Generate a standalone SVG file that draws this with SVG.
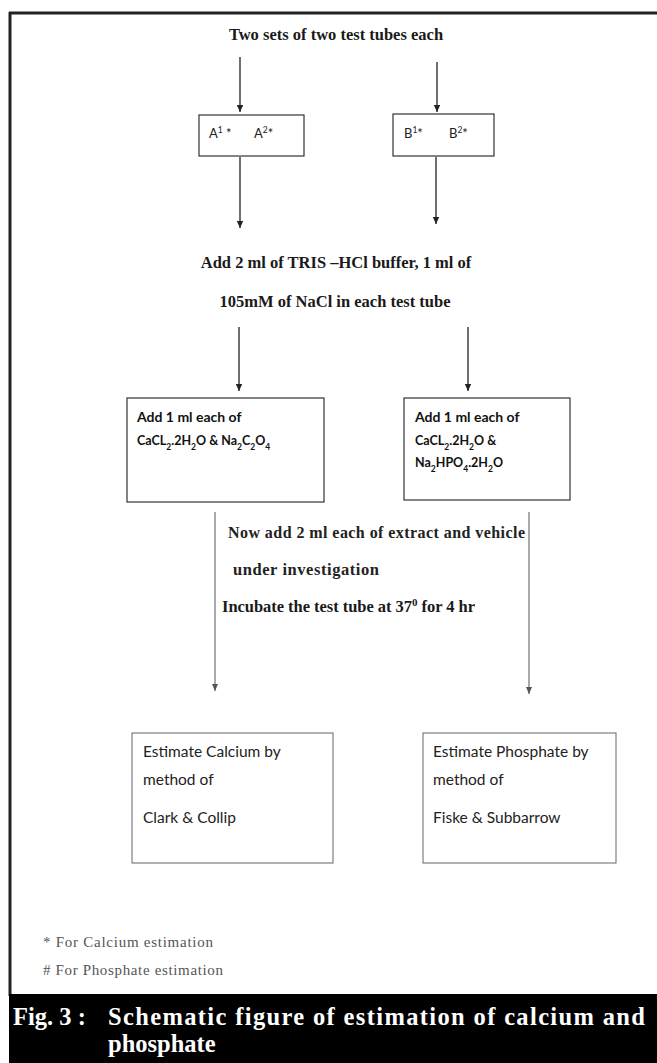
<svg xmlns="http://www.w3.org/2000/svg" width="657" height="1063" viewBox="0 0 657 1063">
<style>
.serifb{font-family:"Liberation Serif","Times New Roman",serif;font-weight:bold;fill:#1a1a1a;}
.serif{font-family:"Liberation Serif","Times New Roman",serif;fill:#222;}
.sans{font-family:Lato,"Liberation Sans",sans-serif;fill:#222;}
.sansb{font-family:Lato,"Liberation Sans",sans-serif;font-weight:bold;fill:#111;}
.box{fill:none;stroke:#333;stroke-width:1.2;}
.boxl{fill:none;stroke:#666;stroke-width:1;}
.conn{stroke:#222;stroke-width:1.3;fill:none;}
.connl{stroke:#555;stroke-width:1;fill:none;}
.foot{font-family:"Liberation Serif","Times New Roman",serif;fill:#555;font-size:15px;}
.cap{font-family:"Liberation Serif","Times New Roman",serif;font-weight:bold;fill:#fff;font-size:24.5px;}
</style>
<defs>
<marker id="ah" markerWidth="8" markerHeight="8" refX="7" refY="4" orient="auto" markerUnits="userSpaceOnUse">
<path d="M0,0.8 L7,4 L0,7.2 Z" fill="#222"/>
</marker>
<marker id="ahl" markerWidth="8" markerHeight="8" refX="7" refY="4" orient="auto" markerUnits="userSpaceOnUse">
<path d="M0,1 L7,4 L0,7 Z" fill="#555"/>
</marker>
</defs>
<rect x="0" y="0" width="657" height="1063" fill="#fff"/>
<g id="frame">
<line x1="9" y1="13" x2="657" y2="13" stroke="#222" stroke-width="3"/>
<line x1="10" y1="12" x2="10" y2="996" stroke="#222" stroke-width="3"/>
</g>

<g id="connectors">
<line class="conn" x1="240" y1="57" x2="240" y2="112" marker-end="url(#ah)"/>
<line class="conn" x1="437" y1="62" x2="437" y2="112" marker-end="url(#ah)"/>
<line class="conn" x1="240" y1="157" x2="240" y2="228" marker-end="url(#ah)"/>
<line class="conn" x1="436" y1="157" x2="436" y2="224" marker-end="url(#ah)"/>
<line class="conn" x1="239" y1="327" x2="239" y2="391" marker-end="url(#ah)"/>
<line class="conn" x1="468" y1="327" x2="468" y2="391" marker-end="url(#ah)"/>
<line class="connl" x1="215" y1="512" x2="215" y2="691" marker-end="url(#ahl)"/>
<line class="connl" x1="529" y1="512" x2="529" y2="694" marker-end="url(#ahl)"/>
</g>

<g id="n-title">
<text class="serifb" x="336" y="40" font-size="16.5" text-anchor="middle">Two sets of two test tubes each</text>
</g>

<g id="n-A">
<rect class="box" x="199" y="115" width="105" height="41"/>
<text class="sans" x="209" y="138" font-size="13">A<tspan font-size="8.5" baseline-shift="super">1</tspan> *<tspan x="254">A</tspan><tspan font-size="8.5" baseline-shift="super">2</tspan>*</text>
</g>

<g id="n-B">
<rect class="box" x="393" y="114" width="101" height="42"/>
<text class="sans" x="404" y="138" font-size="13">B<tspan font-size="8.5" baseline-shift="super">1</tspan>*<tspan x="449">B</tspan><tspan font-size="8.5" baseline-shift="super">2</tspan>*</text>
</g>

<g id="n-buffer">
<text class="serifb" x="336" y="268" font-size="16.5" text-anchor="middle">Add 2 ml of TRIS –HCl buffer, 1 ml of</text>
<text class="serifb" x="335" y="307" font-size="16.5" text-anchor="middle">105mM of NaCl in each test tube</text>
</g>

<g id="n-oxalate">
<rect class="box" x="127" y="398" width="197" height="104"/>
<text class="sansb" x="137" y="422" font-size="14">Add 1 ml each of</text>
<text class="sansb" x="137" y="445" font-size="12.5">CaCL<tspan font-size="8.5" baseline-shift="sub">2</tspan>.2H<tspan font-size="8.5" baseline-shift="sub">2</tspan>O &amp; Na<tspan font-size="8.5" baseline-shift="sub">2</tspan>C<tspan font-size="8.5" baseline-shift="sub">2</tspan>O<tspan font-size="8.5" baseline-shift="sub">4</tspan></text>
</g>

<g id="n-phosphate">
<rect class="box" x="404" y="398" width="166" height="102"/>
<text class="sansb" x="415" y="422" font-size="14">Add 1 ml each of</text>
<text class="sansb" x="415" y="445" font-size="12.5">CaCL<tspan font-size="8.5" baseline-shift="sub">2</tspan>.2H<tspan font-size="8.5" baseline-shift="sub">2</tspan>O &amp;</text>
<text class="sansb" x="415" y="467" font-size="12.5">Na<tspan font-size="8.5" baseline-shift="sub">2</tspan>HPO<tspan font-size="8.5" baseline-shift="sub">4</tspan>.2H<tspan font-size="8.5" baseline-shift="sub">2</tspan>O</text>
</g>

<g id="n-incubate">
<text class="serif" x="228" y="538" font-size="16" font-weight="bold" textLength="297" lengthAdjust="spacing">Now add 2 ml each of  extract and vehicle</text>
<text class="serif" x="233" y="575" font-size="16.5" font-weight="bold" textLength="146" lengthAdjust="spacing">under investigation</text>
<text class="serifb" x="222" y="612" font-size="16.5" textLength="253" lengthAdjust="spacing">Incubate the test tube at 37<tspan font-size="11" baseline-shift="super">0</tspan> for 4 hr</text>
</g>

<g id="n-calcium">
<rect class="boxl" x="132" y="733" width="201" height="130"/>
<text class="sans" x="143" y="757" font-size="15.5" fill="#333">Estimate Calcium by</text>
<text class="sans" x="143" y="785" font-size="15.5" fill="#333">method of</text>
<text class="sans" x="143" y="823" font-size="15.5" fill="#333">Clark &amp; Collip</text>
</g>

<g id="n-phos-est">
<rect class="boxl" x="423" y="733" width="193" height="130"/>
<text class="sans" x="433" y="757" font-size="15.5" fill="#333">Estimate Phosphate by</text>
<text class="sans" x="433" y="785" font-size="15.5" fill="#333">method of</text>
<text class="sans" x="433" y="823" font-size="15.5" fill="#333">Fiske &amp; Subbarrow</text>
</g>

<g id="footnotes">
<text class="foot" x="43" y="947" textLength="170" lengthAdjust="spacing">* For Calcium estimation</text>
<text class="foot" x="43" y="975" textLength="180" lengthAdjust="spacing"># For Phosphate estimation</text>
</g>

<g id="caption">
<rect x="9" y="994" width="648" height="69" fill="#000"/>
<text class="cap" x="13" y="1025">Fig. 3 :</text>
<text class="cap" x="108" y="1025" textLength="537" lengthAdjust="spacing">Schematic figure of estimation of calcium and</text>
<text class="cap" x="108" y="1052">phosphate</text>
</g>
</svg>
